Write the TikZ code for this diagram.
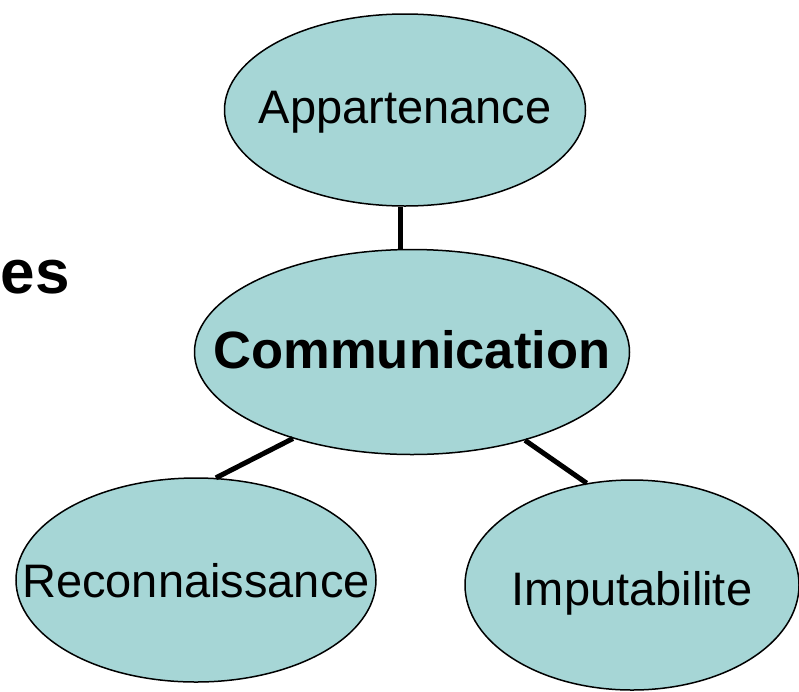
\documentclass[tikz,border=0pt]{standalone}
\usepackage{fontspec}
\setmainfont{Liberation Sans}
\usetikzlibrary{shapes.geometric}
\definecolor{bubblefill}{RGB}{166,214,214}

\begin{document}
\begin{tikzpicture}[
    x=1pt, y=-1pt,
    bubble/.style={draw=black, line width=1.5pt, ellipse, fill=bubblefill, inner sep=0pt, font=\fontsize{47}{50}\selectfont},
    drop/.style={text height=#1, text depth=0pt},
    link/.style={line width=5pt, draw=black}
]
\useasboundingbox (0,0) rectangle (799,691);

\node[bubble, drop=26pt, minimum width=361pt, minimum height=192pt] (app) at (405,110) {\makebox[0pt]{Appartenance}};
\node[bubble, drop=32pt, minimum width=435pt, minimum height=205pt, font=\fontsize{52.5}{55}\selectfont\bfseries] (comm) at (412,352) {\makebox[0pt]{Communication}};
\node[bubble, drop=34pt, minimum width=360pt, minimum height=204pt] (rec) at (196,580) {\makebox[0pt]{Reconnaissance}};
\node[bubble, drop=40pt, minimum width=334pt, minimum height=210pt] (imp) at (632,585) {\makebox[0pt]{Imputabilite}};
\node[anchor=base east, inner sep=0pt, font=\fontsize{62}{65}\selectfont\bfseries] (es) at (70,293) {es};

\draw[link] (app.south -| 400,0) -- (comm.north -| 400,0);
\draw[link] (comm.216) -- (rec.79);
\draw[link] (comm.322) -- (imp.114);

\end{tikzpicture}
\end{document}
